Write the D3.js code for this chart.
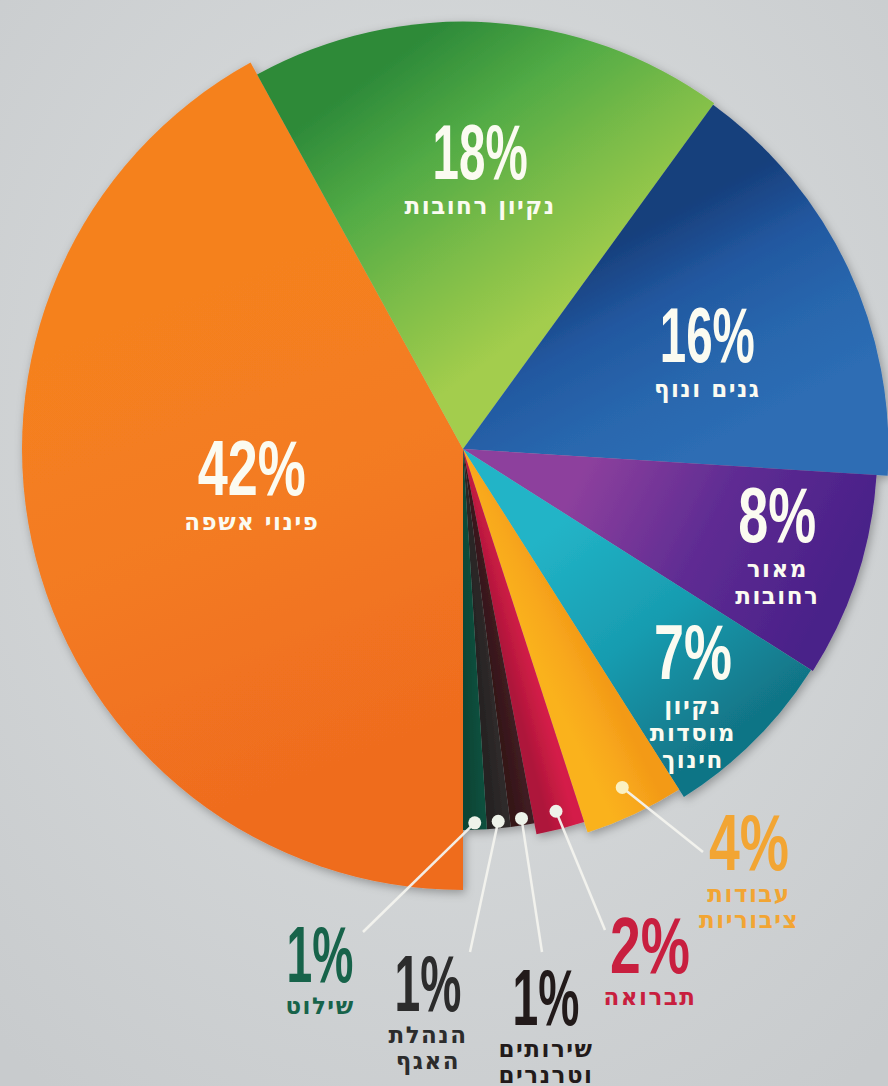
<!DOCTYPE html>
<html>
<head>
<meta charset="utf-8">
<title>פילוח תקציב</title>
<style>
  html, body { margin: 0; padding: 0; background: #d3d6d8; }
  svg { display: block; }
  .num { font-family: "Liberation Sans", "DejaVu Sans", sans-serif; font-weight: bold; }
  .heb { font-family: "DejaVu Sans", sans-serif; font-weight: bold; letter-spacing: 1.5px; }
</style>
</head>
<body>
<script src="https://d3js.org/d3.v7.min.js"></script>
<script>
// data
const categories = ["פינוי אשפה", "נקיון רחובות", "גנים ונוף", "מאור רחובות", "נקיון מוסדות חינוך",
                    "עבודות ציבוריות", "תברואה", "שירותים וטרנרים", "הנהלת האגף", "שילוט"];
const values = [42, 18, 16, 8, 7, 4, 2, 1, 1, 1];
const labelLines = [["פינוי אשפה"], ["נקיון רחובות"], ["גנים ונוף"], ["מאור", "רחובות"], ["נקיון", "מוסדות", "חינוך"],
                    ["עבודות", "ציבוריות"], ["תברואה"], ["שירותים", "וטרנרים"], ["הנהלת", "האגף"], ["שילוט"]];

// colour stops per slice and gradient kind
const sliceColors = [
  { kind: "edge", stops: ["#ef6c1f", "#f37a21", "#f5811f"] },
  { kind: "outer", stops: ["#2d8a39", "#52ab45", "#7dbd48", "#a3cd4d"] },
  { kind: "edge", stops: ["#173f7c", "#2258a0", "#2866ad", "#2d6db4"] },
  { kind: "radial", stops: ["#8d409d", "#5f2c93", "#4a2189"] },
  { kind: "radial", stops: ["#22b4c7", "#189cb0", "#117486"] },
  { kind: "edge", stops: ["#f39a17", "#f8a81c", "#fab21f"] },
  { kind: "edge", stops: ["#d41f48", "#c21a41", "#ae163a"] },
  { kind: "edge", stops: ["#3f1b21", "#361719"] },
  { kind: "edge", stops: ["#2f2a2a", "#262323"] },
  { kind: "edge", stops: ["#0f4f3d", "#0c4535"] }
];
const outsideColors = ["#f2a533", "#c81f3f", "#221a1a", "#2c2c2c", "#17634a"];

const width = 888, height = 1086;
const cx = 463, cy = 449;

const svg = d3.select("body").append("svg")
  .attr("width", width)
  .attr("height", height);

const defs = svg.append("defs");

// background
const bg = defs.append("radialGradient").attr("id", "bg")
  .attr("cx", "50%").attr("cy", "40%").attr("r", "75%");
bg.append("stop").attr("offset", "0%").attr("stop-color", "#dcdfe0");
bg.append("stop").attr("offset", "100%").attr("stop-color", "#c8cbcd");
svg.append("rect").attr("width", width).attr("height", height).attr("fill", "url(#bg)");

const shadow = defs.append("filter").attr("id", "shadow")
  .attr("x", "-20%").attr("y", "-20%").attr("width", "140%").attr("height", "140%");
shadow.append("feDropShadow").attr("dx", 2).attr("dy", 3).attr("stdDeviation", 5)
  .attr("flood-color", "#000").attr("flood-opacity", 0.3);

// radius grows with the share of each slice
const rScale = d3.scaleLog().domain([1, 42]).range([381, 441]);

const pie = d3.pie()
  .sort(null)
  .value(i => values[i])
  .startAngle(Math.PI)
  .endAngle(3 * Math.PI);

const arcs = pie(d3.range(values.length));

const arc = d3.arc()
  .innerRadius(0)
  .outerRadius(d => rScale(values[d.data]));

// angle in d3 convention (clockwise from 12 o'clock), relative to pie centre
function rel(a, r) {
  return [r * Math.sin(a), -r * Math.cos(a)];
}
function polar(a, r) {
  const p = rel(a, r);
  return [cx + p[0], cy + p[1]];
}

arcs.forEach(d => {
  const r = rScale(values[d.data]);
  const c = sliceColors[d.data];
  const span = d.endAngle - d.startAngle;
  let p0, p1;
  if (c.kind === "edge") {
    p0 = rel(d.startAngle, r * 0.6);
    p1 = rel(d.endAngle - span * 0.1, r * 0.6);
  } else if (c.kind === "outer") {
    p0 = rel(d.startAngle + span * 0.05, r * 0.85);
    p1 = rel(d.startAngle + span * 0.65, r * 0.2);
  } else {
    p0 = rel(d.startAngle + span * 0.1, r * 0.3);
    p1 = rel(d.startAngle + span * 0.6, r * 0.95);
  }
  const g = defs.append("linearGradient").attr("id", "g" + d.data)
    .attr("gradientUnits", "userSpaceOnUse")
    .attr("x1", p0[0]).attr("y1", p0[1]).attr("x2", p1[0]).attr("y2", p1[1]);
  c.stops.forEach((col, k) => {
    g.append("stop")
      .attr("offset", (k / (c.stops.length - 1) * 100) + "%")
      .attr("stop-color", col);
  });
});

const pieG = svg.append("g")
  .attr("transform", `translate(${cx},${cy})`)
  .attr("filter", "url(#shadow)");

pieG.selectAll("path")
  .data(arcs)
  .join("path")
  .attr("d", arc)
  .attr("fill", d => `url(#g${d.data})`);

// narrow digits: relative glyph widths for the percent figures
const glyphW = { "1": 0.22, "%": 0.615 };
function numLength(s, fs) {
  return fs * Array.from(s).reduce((t, ch) => t + (glyphW[ch] || 0.385), 0);
}

function drawLabel(g, i, x, y, fs, color, first, step, hebSize) {
  const txt = values[i] + "%";
  g.append("text")
    .attr("class", "num")
    .attr("x", x).attr("y", y)
    .attr("text-anchor", "middle")
    .attr("font-size", fs)
    .attr("textLength", numLength(txt, fs))
    .attr("lengthAdjust", "spacingAndGlyphs")
    .attr("fill", color)
    .text(txt);
  labelLines[i].forEach((line, k) => {
    g.append("text")
      .attr("class", "heb")
      .attr("x", x).attr("y", y + first + k * step)
      .attr("text-anchor", "middle")
      .attr("font-size", hebSize)
      .attr("fill", color)
      .text(line);
  });
}

// inside labels: angle shift from the slice middle (degrees) and radius of the figure centre
const insideLayout = [
  { dA: 9.5, r: 212 },
  { dA: -0.3, r: 298 },
  { dA: 0, r: 270 },
  { dA: -6.3, r: 321 },
  { dA: -3.7, r: 306 }
];

const labG = svg.append("g");
insideLayout.forEach((l, i) => {
  const d = arcs[i];
  const a = (d.startAngle + d.endAngle) / 2 + l.dA * Math.PI / 180;
  const p = polar(a, l.r);
  drawLabel(labG, i, p[0], p[1] + 28, 78, "#fbfbf1", 35, 27, 23);
});

// outside labels with leader lines
const outsideLayout = [
  { x: 749, y: 870, ex: 703, ey: 852 },
  { x: 650, y: 973, ex: 605, ey: 930 },
  { x: 546, y: 1025, ex: 542, ey: 952 },
  { x: 428, y: 1011, ex: 470, ey: 952 },
  { x: 320, y: 982, ex: 363, ey: 932 }
];

const leadG = svg.append("g");
outsideLayout.forEach((l, k) => {
  const i = k + 5;
  const d = arcs[i];
  const p = polar((d.startAngle + d.endAngle) / 2, 374);
  leadG.append("line")
    .attr("x1", p[0]).attr("y1", p[1])
    .attr("x2", l.ex).attr("y2", l.ey)
    .attr("stroke", "#f4f4ef")
    .attr("stroke-width", 2.5)
    .attr("opacity", 0.95);
  leadG.append("circle")
    .attr("cx", p[0]).attr("cy", p[1])
    .attr("r", 6.5)
    .attr("fill", i === 5 ? "#fbf1c2" : "#eef3ea");
  drawLabel(labG, i, l.x, l.y, 80, outsideColors[k], 32, 26, 23);
});
</script>
</body>
</html>
